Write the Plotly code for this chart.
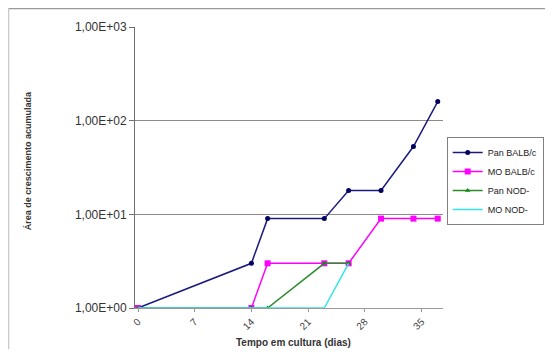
import plotly.graph_objects as go

days = [0, 14, 16, 23, 26, 30, 34, 37]
pan_balbc = [1, 3, 9, 9, 18, 18, 53, 160]
mo_balbc = [1, 1, 3, 3, 3, 9, 9, 9]
days_nod = [0, 14, 16, 23, 26]
pan_nod = [1, 1, 1, 3, 3]
mo_nod = [1, 1, 1, 1, 3]

x_ticks = [0, 7, 14, 21, 28, 35]
y_ticks = [1, 10, 100, 1000]
y_tick_labels = ["1,00E+00", "1,00E+01", "1,00E+02", "1,00E+03"]

FONT = "Liberation Sans, Arial, sans-serif"

fig = go.Figure()
fig.add_trace(go.Scatter(x=days, y=pan_balbc, name="Pan BALB/c", mode="lines+markers",
                         line=dict(color="#1a1a80", width=1.5),
                         marker=dict(symbol="circle", size=5, color="#000060")))
fig.add_trace(go.Scatter(x=days, y=mo_balbc, name="MO BALB/c", mode="lines+markers",
                         line=dict(color="#ff00ff", width=1.5),
                         marker=dict(symbol="square", size=6, color="#ff00ff")))
fig.add_trace(go.Scatter(x=days_nod, y=pan_nod, name="Pan NOD-", mode="lines+markers",
                         line=dict(color="#2e8b2e", width=1.5),
                         marker=dict(symbol="triangle-up", size=5, color="#138a13")))
fig.add_trace(go.Scatter(x=days_nod, y=mo_nod, name="MO NOD-", mode="lines",
                         line=dict(color="#33e6e6", width=1.5)))

fig.update_layout(
    width=545, height=341,
    margin=dict(l=127, r=110, t=19, b=41, autoexpand=False),
    paper_bgcolor="white", plot_bgcolor="white",
    font=dict(family=FONT, size=9, color="#333333"),
    showlegend=True,
    legend=dict(x=1.012, y=0.6085, xanchor="left", yanchor="top",
                bordercolor="#808080", borderwidth=1, bgcolor="white",
                font=dict(size=9, color="#222222"), tracegroupgap=0,
                itemwidth=30),
    xaxis=dict(range=[-0.37, 37.65], tickmode="array", tickvals=x_ticks,
               ticktext=[str(v) for v in x_ticks], tickangle=-45,
               showgrid=False, zeroline=False, showline=True, linecolor="#9a9a9a",
               linewidth=1, ticks="outside", ticklen=3, tickcolor="#9a9a9a",
               automargin=False,
               tickfont=dict(size=10, color="#444444")),
    yaxis=dict(type="log", range=[0, 3], tickmode="array", tickvals=y_ticks,
               ticktext=y_tick_labels, showgrid=True, gridcolor="#8a8a8a", gridwidth=1,
               zeroline=False, showline=True, linecolor="#707070", linewidth=1,
               ticks="outside", ticklen=5, tickcolor="#707070",
               automargin=False,
               tickfont=dict(size=12, color="#333333")),
    annotations=[
        dict(text="<b>Área de crescimento acumulada</b>", xref="paper", yref="paper",
             x=-0.347, y=0.523, xanchor="center", yanchor="middle",
             textangle=-90, showarrow=False,
             font=dict(size=9, color="#333333")),
        dict(text="<b>Tempo em cultura (dias)</b>", xref="paper", yref="paper",
             x=0.513, y=-0.121, xanchor="center", yanchor="middle", showarrow=False,
             font=dict(size=10, color="#333333")),
    ],
    shapes=[
        dict(type="line", xref="paper", yref="paper", x0=-0.4107, x1=1.36, y0=1.066, y1=1.066,
             line=dict(color="#9a9a9a", width=1.5)),
        dict(type="line", xref="paper", yref="paper", x0=-0.4107, x1=-0.4107, y0=1.066, y1=-0.2,
             line=dict(color="#c8c8c8", width=1.5)),
    ],
)

fig.write_html("out.html")
